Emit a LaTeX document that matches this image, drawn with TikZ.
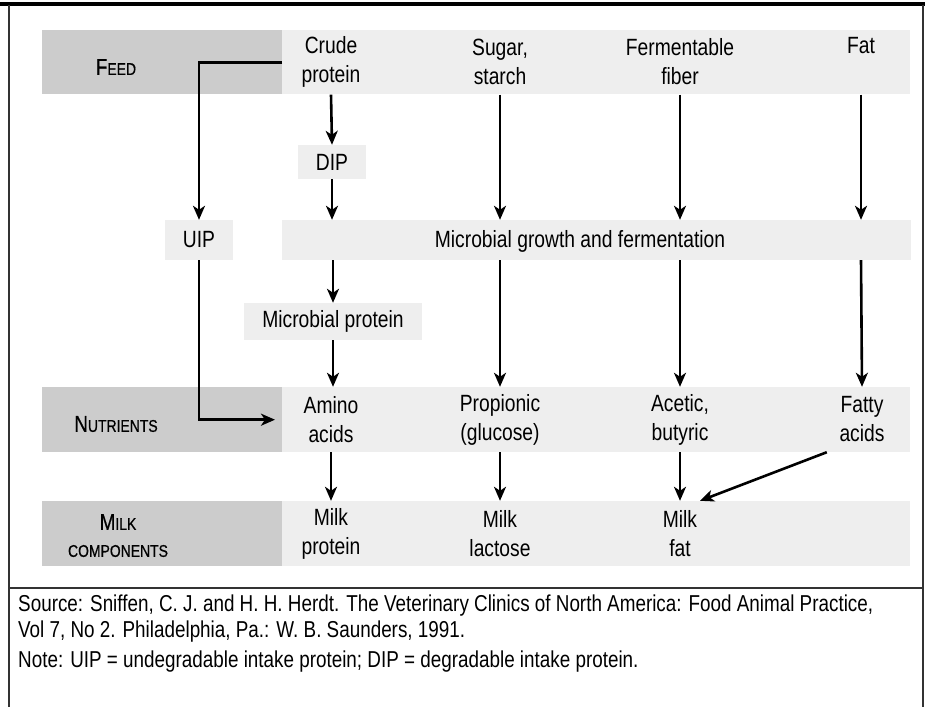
\documentclass[tikz,border=0pt]{standalone}
\usepackage{fontspec}
\setmainfont{Liberation Sans}[FakeStretch=0.82]
\newfontfamily\labfont{Liberation Sans}[FakeStretch=0.82,FakeBold=0.6]
\usetikzlibrary{arrows.meta,calc}
\definecolor{dgray}{RGB}{204,204,204}
\definecolor{lgray}{RGB}{238,238,238}
\tikzset{
  arr/.style={line width=2.6pt,-{Stealth[length=14pt,width=12pt,inset=4pt]}},
  rowbox/.style={fill=#1,draw=none,inner sep=0pt,anchor=north west},
  cell/.style={inner sep=0pt,align=center,font=\fontsize{23.5}{29}\selectfont,minimum height=65pt},
  tbox/.style={fill=lgray,draw=none,inner sep=0pt,font=\fontsize{23.5}{29}\selectfont},
  lab/.style={inner sep=0pt,align=center,font=\labfont},
  src/.style={inner sep=0pt,anchor=west,font=\fontsize{23}{27}\selectfont},
  frame/.style={line width=1.6pt,draw=black!80}
}
\newcommand{\bigsc}{\fontsize{23}{26}\selectfont}
\newcommand{\smsc}{\fontsize{17}{22}\selectfont}
\begin{document}
\begin{tikzpicture}[x=1pt,y=-1pt]
\useasboundingbox (0,0) rectangle (925,707);
% frame
\draw[line width=3.5pt] (0,4) -- (925,4);
\draw[frame] (9,5) -- (9,707);
\draw[frame] (923,5) -- (923,707);
\draw[frame] (9,588) -- (923,588);
% rows
\node[rowbox=dgray,minimum width=240pt,minimum height=64pt] (feedlab) at (42,30) {};
\node[rowbox=lgray,minimum width=628pt,minimum height=64pt] (feedrow) at (282,30) {};
\node[rowbox=dgray,minimum width=240pt,minimum height=65pt] (nutlab) at (42,387) {};
\node[rowbox=lgray,minimum width=628pt,minimum height=65pt] (nutrow) at (282,387) {};
\node[rowbox=dgray,minimum width=240pt,minimum height=65pt] (milklab) at (42,501) {};
\node[rowbox=lgray,minimum width=628pt,minimum height=65pt] (milkrow) at (282,501) {};
% row labels
\node[lab] (tfeed) at (116,67) {\bigsc F\smsc EED};
\node[lab] (tnut) at (116,424) {\bigsc N\smsc UTRIENTS};
\node[lab] (tmilk) at (118,522) {\bigsc M\smsc ILK};
\node[lab] (tcomp) at (118,551) {\smsc COMPONENTS};
% feed cells
\node[cell] (cp) at (331,62) {Crude\\protein};
\node[cell] (ss) at (500,62) {Sugar,\\starch};
\node[cell] (ff) at (680,62) {Fermentable\\fiber};
\node[cell] (fat) at (861,62) {Fat\\\phantom{g}};
% middle boxes
\node[tbox,minimum width=68pt,minimum height=34pt] (dip) at (332,162) {DIP};
\node[tbox,minimum width=68pt,minimum height=40pt] (uip) at (199,240) {UIP};
\node[tbox,minimum width=629pt,minimum height=40pt] (mg) at (596.5,240) {};
\node[inner sep=0pt,font=\fontsize{23.5}{29}\selectfont] (mgt) at (580,241) {Microbial growth and fermentation};
\node[tbox,minimum width=178pt,minimum height=37pt] (mp) at (333,321.5) {Microbial protein};
% nutrients
\node[cell] (aa) at (331,419.5) {Amino\\acids};
\node[cell] (pg) at (500,419.5) {Propionic\\(glucose)};
\node[cell] (ab) at (680,419.5) {Acetic,\\butyric};
\node[cell,minimum width=70pt] (fa) at (862,419.5) {Fatty\\acids};
% milk
\node[cell] (mpr) at (331,533.5) {Milk\\protein};
\node[cell] (ml) at (500,533.5) {Milk\\lactose};
\node[cell] (mf) at (680,533.5) {Milk\\fat};
% arrows
\draw[arr] (cp.south) -- (dip.north);
\draw[arr] (dip.south) -- (dip.south |- mg.north);
\draw[arr] (ss.south) -- (ss.south |- mg.north);
\draw[arr] (ff.south) -- (ff.south |- mg.north);
\draw[arr] (fat.south) -- (fat.south |- mg.north);
\draw[arr] (mg.south -| mp.north) -- (mp.north);
\draw[arr] (mp.south) -- (mp.south |- aa.north);
\draw[arr] (ss.south |- mg.south) -- (pg.north);
\draw[arr] (ff.south |- mg.south) -- (ab.north);
\draw[arr] (fat.south |- mg.south) -- (fa.north);
\draw[arr] (feedrow.west) -| (uip.north);
\draw[arr,shorten >=7pt] (uip.south) |- (nutrow.west);
\draw[arr] (aa.south) -- (mpr.north);
\draw[arr] (pg.south) -- (ml.north);
\draw[arr] (ab.south) -- (mf.north);
\draw[arr] (fa.south west) -- ($(mf.north)+(20,0)$);
% source
\node[src] (s1) at (18,606) {Source: Sniffen, C. J. and H. H. Herdt. The Veterinary Clinics of North America: Food Animal Practice,};
\node[src] (s2) at (18,632) {Vol 7, No 2. Philadelphia, Pa.: W. B. Saunders, 1991.};
\node[src] (s3) at (18,662) {Note: UIP = undegradable intake protein; DIP = degradable intake protein.};
\end{tikzpicture}
\end{document}
